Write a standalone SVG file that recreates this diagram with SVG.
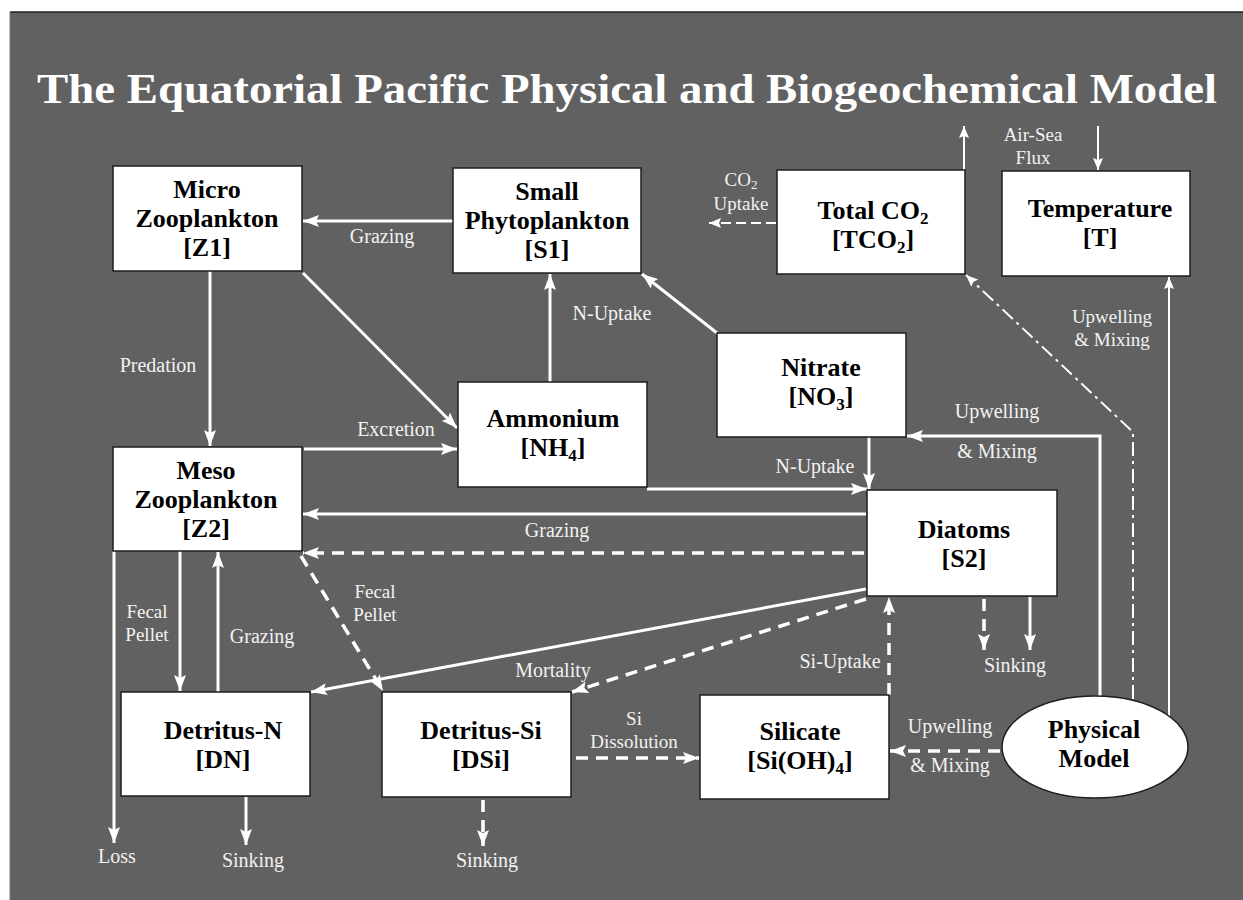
<svg xmlns="http://www.w3.org/2000/svg" width="1243" height="900" viewBox="0 0 1243 900">
<defs>
<style>
.panel{fill:#616161}
.box{fill:#ffffff;stroke:#1e1e1e;stroke-width:1.5}
.nt{font-family:"Liberation Serif","Times New Roman",serif;font-weight:bold;font-size:26px;fill:#000;text-anchor:middle}
.lb{font-family:"Liberation Serif","Times New Roman",serif;font-size:20px;fill:#f2f2f2;text-anchor:middle}
.l2{font-size:19px}
.title{font-family:"Liberation Serif","Times New Roman",serif;font-weight:bold;font-size:42px;fill:#ffffff}
.c{fill:none;stroke:#ffffff;stroke-width:3}
.t{fill:none;stroke:#ffffff;stroke-width:2}
.d{fill:none;stroke:#ffffff;stroke-width:3.5;stroke-dasharray:12 8}
.dd{fill:none;stroke:#ffffff;stroke-width:2;stroke-dasharray:14 5 3 5}
.sub{font-size:17px}
.sm{font-size:13px}
</style>
<marker id="a" viewBox="0 0 16 12" refX="16" refY="6" markerWidth="16" markerHeight="12" markerUnits="userSpaceOnUse" orient="auto"><path d="M0,0 L16,6 L0,12 L3,6 z" fill="#ffffff"/></marker>
<marker id="s" viewBox="0 0 12 10" refX="12" refY="5" markerWidth="12" markerHeight="10" markerUnits="userSpaceOnUse" orient="auto"><path d="M0,0 L12,5 L0,10 L2,5 z" fill="#ffffff"/></marker>
</defs>
<rect x="0" y="0" width="1243" height="900" fill="#ffffff"/>
<rect class="panel" x="10" y="12" width="1233" height="888"/>
<line x1="10" y1="12" x2="1243" y2="12" stroke="#222" stroke-width="1.5"/>
<line x1="10" y1="12" x2="10" y2="900" stroke="#777" stroke-width="1"/>
<text class="title" x="37" y="103" textLength="1180" lengthAdjust="spacingAndGlyphs">The Equatorial Pacific Physical and Biogeochemical Model</text>

<g id="connectors">
<path class="c" d="M453,221 L303,221" marker-end="url(#a)"/>
<path class="c" d="M210,271 L210,446" marker-end="url(#a)"/>
<path class="c" d="M303,273 L457,428" marker-end="url(#a)"/>
<path class="c" d="M304,449 L457,449" marker-end="url(#a)"/>
<path class="c" d="M550,382 L550,274" marker-end="url(#a)"/>
<path class="c" d="M717,333 L642,274" marker-end="url(#a)"/>
<path class="c" d="M869,437 L869,489" marker-end="url(#a)"/>
<path class="c" d="M647,489 L867,489" marker-end="url(#a)"/>
<path class="c" d="M866,514 L303,514" marker-end="url(#a)"/>
<path class="d" d="M864,553 L303,553" marker-end="url(#a)"/>
<path class="d" d="M301,556 L383,691" marker-end="url(#a)"/>
<path class="c" d="M180,551 L180,691" marker-end="url(#a)"/>
<path class="c" d="M218,692 L218,552" marker-end="url(#a)"/>
<path class="c" d="M114,551 L114,843" marker-end="url(#a)"/>
<path class="c" d="M866,589 L311,692" marker-end="url(#a)"/>
<path class="d" d="M866,599 L572,692" marker-end="url(#a)"/>
<path class="d" d="M889,695 L889,597" marker-end="url(#a)"/>
<path class="d" d="M984,599 L984,650" marker-end="url(#a)"/>
<path class="c" d="M1030,597 L1030,650" marker-end="url(#a)"/>
<path class="d" d="M576,758 L699,758" marker-end="url(#a)"/>
<path class="d" d="M1000,751 L890,751" marker-end="url(#a)"/>
<path class="d" d="M483,800 L483,846" marker-end="url(#a)"/>
<path class="c" d="M246,797 L246,845" marker-end="url(#a)"/>
<path class="c" d="M1100,697 L1100,436 L907,436" marker-end="url(#a)"/>
<path class="dd" d="M1133,699 L1133,432 L966,275" marker-end="url(#s)"/>
<path class="t" d="M1169,716 L1169,277" marker-end="url(#s)"/>
<path class="t" d="M964,170 L964,126" marker-end="url(#s)"/>
<path class="t" d="M1098,126 L1098,170" marker-end="url(#s)"/>
<path class="t" d="M776,223 L709,223" stroke-dasharray="10 5" marker-end="url(#s)"/>
</g>

<g id="labels">
<text class="lb" x="382" y="243">Grazing</text>
<text class="lb" x="158" y="372">Predation</text>
<text class="lb" x="396" y="436">Excretion</text>
<text class="lb" x="612" y="320">N-Uptake</text>
<text class="lb" x="815" y="473">N-Uptake</text>
<text class="lb" x="557" y="537">Grazing</text>
<text class="lb l2" x="147" y="618">Fecal</text>
<text class="lb l2" x="147" y="641">Pellet</text>
<text class="lb" x="262" y="643">Grazing</text>
<text class="lb l2" x="375" y="598">Fecal</text>
<text class="lb l2" x="375" y="621">Pellet</text>
<text class="lb" x="553" y="677">Mortality</text>
<text class="lb" x="840" y="668">Si-Uptake</text>
<text class="lb" x="1015" y="672">Sinking</text>
<text class="lb l2" x="634" y="725">Si</text>
<text class="lb l2" x="634" y="748">Dissolution</text>
<text class="lb" x="950" y="733">Upwelling</text>
<text class="lb" x="950" y="772">&amp; Mixing</text>
<text class="lb" x="117" y="863">Loss</text>
<text class="lb" x="253" y="867">Sinking</text>
<text class="lb" x="487" y="867">Sinking</text>
<text class="lb" x="997" y="418">Upwelling</text>
<text class="lb" x="997" y="458">&amp; Mixing</text>
<text class="lb l2" x="1112" y="323">Upwelling</text>
<text class="lb l2" x="1112" y="346">&amp; Mixing</text>
<text class="lb l2" x="1033" y="141">Air-Sea</text>
<text class="lb l2" x="1033" y="164">Flux</text>
<text class="lb l2" x="741" y="186">CO<tspan class="sm" dy="3">2</tspan></text>
<text class="lb l2" x="741" y="210">Uptake</text>
</g>

<g id="z1"><rect class="box" x="113" y="166" width="189" height="105"/>
<text class="nt" x="207" y="198">Micro</text><text class="nt" x="207" y="227">Zooplankton</text><text class="nt" x="207" y="256">[Z1]</text></g>
<g id="s1"><rect class="box" x="453" y="168" width="188" height="105"/>
<text class="nt" x="547" y="200">Small</text><text class="nt" x="547" y="229">Phytoplankton</text><text class="nt" x="547" y="258">[S1]</text></g>
<g id="tco2"><rect class="box" x="777" y="170" width="188" height="104"/>
<text class="nt" x="873" y="219">Total CO<tspan class="sub" dy="5">2</tspan></text><text class="nt" x="873" y="248">[TCO<tspan class="sub" dy="5">2</tspan><tspan dy="-5">]</tspan></text></g>
<g id="temp"><rect class="box" x="1002" y="171" width="188" height="105"/>
<text class="nt" x="1100" y="217">Temperature</text><text class="nt" x="1100" y="246">[T]</text></g>
<g id="no3"><rect class="box" x="717" y="333" width="189" height="104"/>
<text class="nt" x="821" y="376">Nitrate</text><text class="nt" x="821" y="405">[NO<tspan class="sub" dy="5">3</tspan><tspan dy="-5">]</tspan></text></g>
<g id="nh4"><rect class="box" x="458" y="382" width="189" height="105"/>
<text class="nt" x="553" y="427">Ammonium</text><text class="nt" x="553" y="456">[NH<tspan class="sub" dy="5">4</tspan><tspan dy="-5">]</tspan></text></g>
<g id="z2"><rect class="box" x="113" y="447" width="189" height="104"/>
<text class="nt" x="206" y="479">Meso</text><text class="nt" x="206" y="508">Zooplankton</text><text class="nt" x="206" y="537">[Z2]</text></g>
<g id="s2"><rect class="box" x="867" y="490" width="190" height="106"/>
<text class="nt" x="964" y="538">Diatoms</text><text class="nt" x="964" y="567">[S2]</text></g>
<g id="dn"><rect class="box" x="121" y="692" width="189" height="104"/>
<text class="nt" x="223" y="739">Detritus-N</text><text class="nt" x="223" y="768">[DN]</text></g>
<g id="dsi"><rect class="box" x="382" y="692" width="189" height="105"/>
<text class="nt" x="481" y="739">Detritus-Si</text><text class="nt" x="481" y="768">[DSi]</text></g>
<g id="sil"><rect class="box" x="700" y="695" width="189" height="104"/>
<text class="nt" x="800" y="740">Silicate</text><text class="nt" x="800" y="769">[Si(OH)<tspan class="sub" dy="5">4</tspan><tspan dy="-5">]</tspan></text></g>
<g id="phys"><ellipse class="box" cx="1095" cy="747" rx="93" ry="51"/>
<text class="nt" x="1094" y="738">Physical</text><text class="nt" x="1094" y="767">Model</text></g>
</svg>
